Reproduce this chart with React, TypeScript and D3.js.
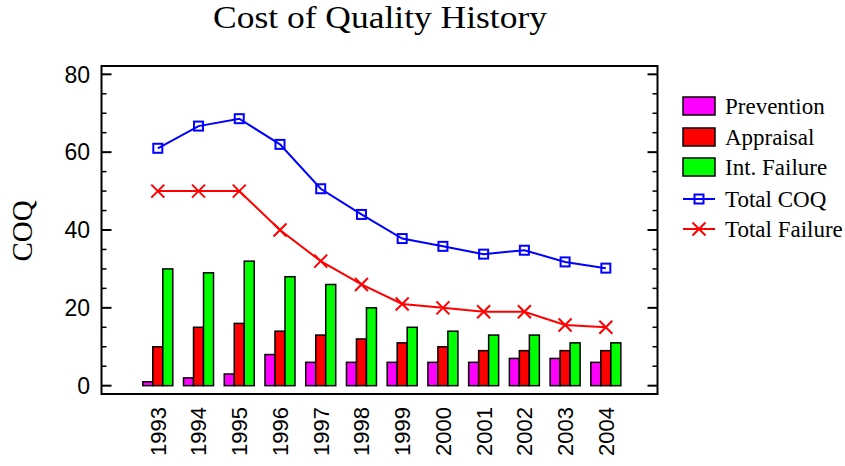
import React from "react";
import * as d3 from "d3";

const years = ["1993","1994","1995","1996","1997","1998","1999","2000","2001","2002","2003","2004"];
const prevention = [1, 2, 3, 8, 6, 6, 6, 6, 6, 7, 7, 6];
const appraisal = [10, 15, 16, 14, 13, 12, 11, 10, 9, 9, 9, 9];
const intFailure = [30, 29, 32, 28, 26, 20, 15, 14, 13, 13, 11, 11];
const totalCOQ = [61, 66.7, 68.6, 62, 50.6, 44, 37.8, 35.8, 33.8, 34.8, 31.8, 30.2];
const totalFailure = [50, 50, 50, 40, 32, 26, 21, 20, 19, 19, 15.6, 15];
const yTicks = [0, 20, 40, 60, 80];
const yMinorTicks = d3.range(0, 81, 5);

const barSeries = [
  { name: "Prevention", values: prevention, color: "#ff00ff" },
  { name: "Appraisal", values: appraisal, color: "#ff0000" },
  { name: "Int. Failure", values: intFailure, color: "#00ff00" },
];

const SERIF = "'Liberation Serif', 'Times New Roman', serif";
const SANS = "'Liberation Sans', Arial, sans-serif";

export default function App() {
  const W = 845, H = 466;
  const left = 101.5, right = 657.5, top = 66, bottom = 394;
  const step = 40.73;
  const c0 = 157.8;
  const x = d3.scaleBand<string>()
    .domain(years)
    .range([c0 - step / 2, c0 + step * (years.length - 1) + step / 2])
    .paddingInner(0.2635)
    .paddingOuter(0.2635 / 2);
  const inner = d3.scaleBand<string>()
    .domain(barSeries.map((s) => s.name))
    .range([0, x.bandwidth()]);
  const y = d3.scaleLinear().domain([-2.14, 82.14]).range([bottom, top]);
  const cx = (i: number) => (x(years[i]) as number) + x.bandwidth() / 2;

  const line = d3.line<number>().x((_, i) => cx(i)).y((d) => y(d));

  const sq = (px: number, py: number, key: string) => (
    <rect key={key} x={px - 4.5} y={py - 4.5} width={9} height={9} fill="none" stroke="#0000ff" strokeWidth={2} />
  );
  const xm = (px: number, py: number, key: string) => (
    <path key={key} d={`M${px - 6.5},${py - 6.5}L${px + 6.5},${py + 6.5}M${px - 6.5},${py + 6.5}L${px + 6.5},${py - 6.5}`} stroke="#ff0000" strokeWidth={2} fill="none" />
  );

  const legendRows = [106, 137, 167, 199, 229];
  const lx0 = 683, lx1 = 715, ltx = 725;
  const lfs = 23;

  return (
    <svg width={W} height={H} style={{ position: "absolute", left: 0, top: 0, background: "#fff" }}>
      <text x={380} y={28} textAnchor="middle" fontFamily={SERIF} fontSize={32} textLength={334} lengthAdjust="spacingAndGlyphs" fill="#000">Cost of Quality History</text>

      {/* bars */}
      {barSeries.map((s) =>
        s.values.map((v, i) => (
          <rect key={s.name + i}
            x={(x(years[i]) as number) + (inner(s.name) as number)}
            y={y(v)}
            width={inner.bandwidth()}
            height={y(0) - y(v)}
            fill={s.color} stroke="#000" strokeWidth={1.5} />
        ))
      )}

      {/* lines */}
      <path d={line(totalCOQ) || ""} fill="none" stroke="#0000ff" strokeWidth={2} />
      {totalCOQ.map((v, i) => sq(cx(i), y(v), "s" + i))}
      <path d={line(totalFailure) || ""} fill="none" stroke="#ff0000" strokeWidth={2} />
      {totalFailure.map((v, i) => xm(cx(i), y(v), "x" + i))}

      {/* frame */}
      <rect x={left} y={top} width={right - left} height={bottom - top} fill="none" stroke="#000" strokeWidth={2} />
      {yMinorTicks.map((t) => {
        const major = t % 20 === 0;
        const len = major ? 10 : 5;
        return (
          <g key={"t" + t}>
            <line x1={left} x2={left + len} y1={y(t)} y2={y(t)} stroke="#000" strokeWidth={major ? 2 : 1.5} />
            <line x1={right} x2={right - len} y1={y(t)} y2={y(t)} stroke="#000" strokeWidth={major ? 2 : 1.5} />
          </g>
        );
      })}
      {yTicks.map((t) => (
        <text key={"yl" + t} x={90} y={y(t)} dy="0.36em" textAnchor="end" fontFamily={SANS} fontSize={23} fill="#000">{t}</text>
      ))}
      {years.map((yr, i) => (
        <text key={"xl" + yr} transform={`translate(${cx(i)},${bottom + 13}) rotate(-90)`} dy="0.36em" textAnchor="end" fontFamily={SANS} fontSize={22} fill="#000">{yr}</text>
      ))}
      <text transform={`translate(22,231) rotate(-90)`} dy="0.35em" textAnchor="middle" fontFamily={SERIF} fontSize={29} fill="#000">COQ</text>

      {/* legend */}
      {barSeries.map((s, i) => (
        <g key={"lg" + i}>
          <rect x={lx0} y={legendRows[i] - 9} width={lx1 - lx0} height={18} fill={s.color} stroke="#000" strokeWidth={1.5} />
          <text x={ltx} y={legendRows[i]} dy="0.33em" fontFamily={SERIF} fontSize={lfs} fill="#000">{s.name}</text>
        </g>
      ))}
      <line x1={lx0} x2={lx1} y1={legendRows[3]} y2={legendRows[3]} stroke="#0000ff" strokeWidth={2} />
      {sq((lx0 + lx1) / 2, legendRows[3], "lsq")}
      <text x={ltx} y={legendRows[3]} dy="0.33em" fontFamily={SERIF} fontSize={lfs} fill="#000">Total COQ</text>
      <line x1={lx0} x2={lx1} y1={legendRows[4]} y2={legendRows[4]} stroke="#ff0000" strokeWidth={2} />
      {xm((lx0 + lx1) / 2, legendRows[4], "lx")}
      <text x={ltx} y={legendRows[4]} dy="0.33em" fontFamily={SERIF} fontSize={lfs} fill="#000">Total Failure</text>
    </svg>
  );
}
